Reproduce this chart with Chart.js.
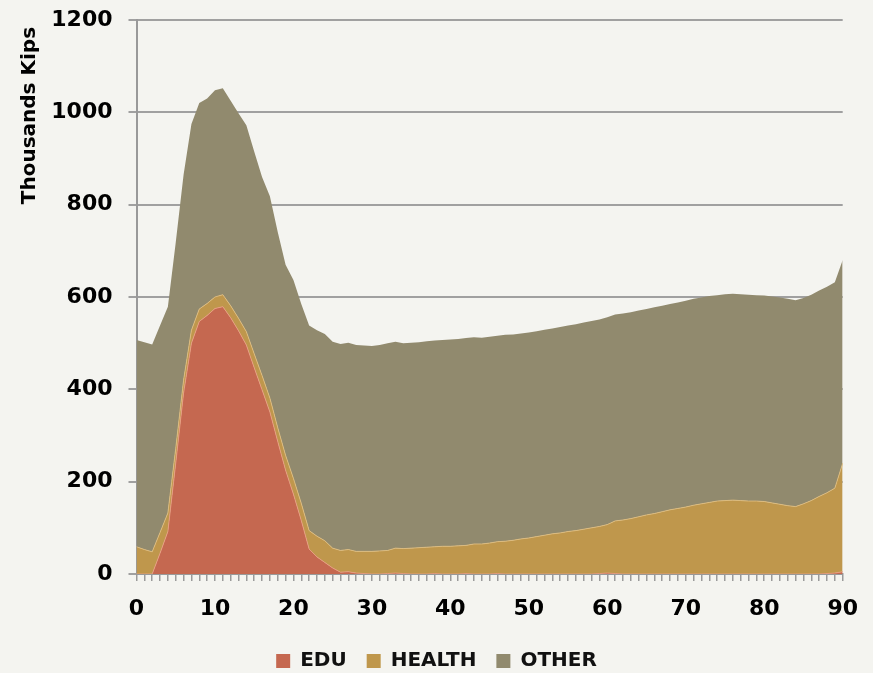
<!DOCTYPE html>
<html><head><meta charset="utf-8">
<script src="https://cdn.jsdelivr.net/npm/chart.js@4.4.1/dist/chart.umd.min.js"></script>
<style>html,body{margin:0;padding:0;background:#f4f4f0;} #wrap{width:873px;height:673px;}</style>
</head><body><div id="wrap"><canvas id="c" width="873" height="673"></canvas></div>
<script>
const ages = [0,1,2,3,4,5,6,7,8,9,10,11,12,13,14,15,16,17,18,19,20,21,22,23,24,25,26,27,28,29,30,31,32,33,34,35,36,37,38,39,40,41,42,43,44,45,46,47,48,49,50,51,52,53,54,55,56,57,58,59,60,61,62,63,64,65,66,67,68,69,70,71,72,73,74,75,76,77,78,79,80,81,82,83,84,85,86,87,88,89,90];
const xTickLabels = ['0','10','20','30','40','50','60','70','80','90'];
const yTickValues = [0,200,400,600,800,1000,1200];
const seriesNames = ['EDU','HEALTH','OTHER'];

const edu = [0,0,0,45,92,240,392,500,547,560,
  575,579,555,527,496,447,399,351,287,225,
  173,116,54,37,25,13,4,5,2,1,
  0,0,1,2,1,0,0,0,1,0,
  0,0,1,0,0,0,1,0,0,0,
  0,0,0,0,0,0,0,0,0,1,
  2,1,0,0,0,0,0,0,0,0,
  0,0,0,0,0,0,0,0,0,0,
  0,0,0,0,0,0,0,0,1,2,
  5];
const health = [59,53,48,45,40,32,28,28,27,26,
  25,26,26,27,29,30,31,30,30,32,
  34,37,40,45,47,43,47,48,47,48,
  49,50,50,54,54,56,57,58,58,60,
  60,61,61,65,65,67,69,71,73,76,
  78,81,84,87,89,92,94,97,100,102,
  105,114,117,120,124,128,131,135,139,142,
  145,149,152,155,158,159,160,159,158,158,
  157,154,151,148,146,152,159,168,175,184,
  235];
const other = [448,449,449,448,447,446,445,447,446,444,
  448,447,444,444,447,438,430,437,424,413,
  430,432,444,446,448,447,447,448,447,446,
  445,446,449,447,445,445,445,446,447,447,
  448,448,449,448,447,447,446,447,446,445,
  445,445,445,445,446,446,447,448,448,448,
  449,447,447,447,447,446,447,446,446,446,
  447,447,447,447,446,447,447,447,447,446,
  446,447,448,448,447,446,446,446,446,446,
  440];

const FAM = "'DejaVu Sans', sans-serif";
const ctx = document.getElementById('c').getContext('2d');
new Chart(ctx, {
  type: 'line',
  data: {
    labels: ages.map(String),
    datasets: [
      {label: seriesNames[0], data: edu, backgroundColor: '#c56850', borderColor: 'rgba(232,160,130,0.9)', borderWidth: 1, fill: 'origin', pointRadius: 0, tension: 0},
      {label: seriesNames[1], data: health, backgroundColor: '#bf974c', borderColor: 'rgba(222,188,128,0.9)', borderWidth: 1, fill: '-1', pointRadius: 0, tension: 0},
      {label: seriesNames[2], data: other, backgroundColor: '#918a6e', borderColor: '#918a6e', borderWidth: 0, fill: '-1', pointRadius: 0, tension: 0}
    ]
  },
  options: {
    responsive: false,
    animation: false,
    layout: {padding: {top: 20, right: 0, bottom: -8, left: 0}},
    plugins: {
      legend: {position: 'bottom', labels: {boxWidth: 14, boxHeight: 14, padding: 20, color: '#111',
        font: {family: FAM, size: 20, weight: 'bold'},
        generateLabels: chart => Chart.defaults.plugins.legend.labels.generateLabels(chart).map(l => Object.assign(l, {strokeStyle: l.fillStyle, lineWidth: 0}))}},
      tooltip: {enabled: false}
    },
    scales: {
      x: {
        type: 'category', offset: false,
        grid: {display: true, drawOnChartArea: false, drawTicks: true, tickLength: 7, color: '#9a9a9a', lineWidth: 1.5},
        border: {display: true, color: '#999', width: 2},
        ticks: {autoSkip: false, maxRotation: 0, minRotation: 0, padding: 15, color: '#000',
          font: {family: FAM, size: 22, weight: 'bold'},
          callback: function(v, i) { const l = this.getLabelForValue(v); return xTickLabels.includes(l) ? l : ''; }},
        afterFit: s => { s.height = 57; }
      },
      y: {
        stacked: true, min: 0, max: 1200,
        afterBuildTicks: s => { s.ticks = yTickValues.map(v => ({value: v})); },
        afterFit: s => { s.width = 136.5; s.paddingTop = 0; s.paddingBottom = 0; },
        grid: {color: '#a0a0a0', lineWidth: 2, tickLength: 8, drawTicks: true},
        border: {display: true, color: '#999', width: 2},
        ticks: {padding: 16, color: '#000', font: {family: FAM, size: 22, weight: 'bold'}, callback: v => String(v)},
        title: {display: true, text: 'Thousands Kips ', align: 'end', color: '#000',
          font: {family: FAM, size: 20, weight: 'bold'}, padding: {top: 18, bottom: 0}}
      },
      yRight: {
        position: 'right', display: true,
        grid: {display: false, drawTicks: false}, border: {display: false},
        ticks: {display: false},
        afterFit: s => { s.width = 29; s.paddingTop = 0; s.paddingBottom = 0; }
      }
    }
  }
});
</script></body></html>
